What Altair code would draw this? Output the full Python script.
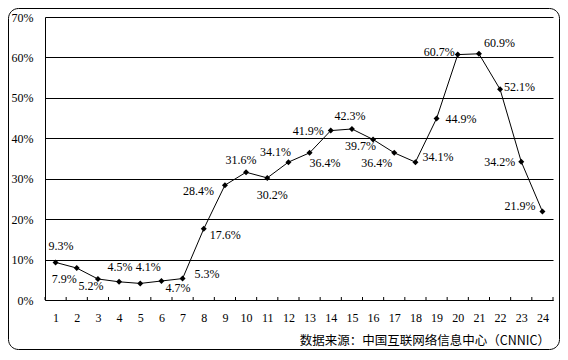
import altair as alt
import pandas as pd

# ---- data ----
periods = list(range(1, 25))
values = [9.3, 7.9, 5.2, 4.5, 4.1, 4.7, 5.3, 17.6, 28.4, 31.6, 30.2, 34.1,
          36.4, 41.9, 42.3, 39.7, 36.4, 34.1, 44.9, 60.7, 60.9, 52.1, 34.2, 21.9]
y_ticks = [0, 10, 20, 30, 40, 50, 60, 70]
source_note = ["数据来源：中国互联网络信息中心（CNNIC）"]

# ---- style: label placement per point (align, dx, dy) ----
LABEL_PLACEMENT = {
    1: ("left", -7, -16), 2: ("right", 0, 11), 3: ("center", -7, 7),
    4: ("center", 1, -15), 5: ("center", 8, -16), 6: ("left", 4, 7),
    7: ("left", 12, -5), 8: ("left", 6, 6), 9: ("right", -11, 6),
    10: ("center", -5, -12), 11: ("center", 5, 17), 12: ("center", -13, -10),
    13: ("left", 0, 10), 14: ("right", -7, 0), 15: ("center", -2, -13),
    16: ("right", 3, 7), 17: ("right", -2, 10), 18: ("left", 7, -5),
    19: ("left", 9, 1), 20: ("right", -3, -3), 21: ("left", 5, -11),
    22: ("left", 4, -2), 23: ("right", -6, 0), 24: ("right", -7, -5),
}

SERIF = "Times New Roman"
W, H = 508, 283

df = pd.DataFrame({"x": periods, "v": values})
df["label"] = [f"{v:.1f}%" for v in values]
note_df = pd.DataFrame({"t": source_note})
tick_df = pd.DataFrame({"x": [p - 0.5 for p in periods] + [periods[-1] + 0.5]})

xscale = alt.Scale(domain=[0.5, 24.5], nice=False, zero=False)
yscale = alt.Scale(domain=[0, 70], nice=False, zero=True)

x_axis = alt.Axis(values=periods, tickSize=0, labelPadding=12, grid=False,
                  labelOverlap=False, labelFlush=False,
                  domain=True, domainColor="black", domainWidth=1,
                  labelColor="black", labelFont=SERIF,
                  labelFontSize=12, title=None)
y_axis = alt.Axis(values=y_ticks, labelExpr="datum.value + '%'", tickSize=0,
                  labelOverlap=False,
                  labelPadding=12, grid=True, gridColor="black", gridOpacity=1,
                  gridWidth=1, domain=True, domainColor="black", domainWidth=1,
                  labelColor="black", labelFont=SERIF, labelFontSize=12,
                  title=None)

base = alt.Chart(df).encode(
    x=alt.X("x:Q", scale=xscale, axis=x_axis),
    y=alt.Y("v:Q", scale=yscale, axis=y_axis),
)

line = base.mark_line(color="black", strokeWidth=1)
points = base.mark_point(shape="diamond", filled=True, size=36, color="black", opacity=1)

texts = []
for i, (align, dx, dy) in LABEL_PLACEMENT.items():
    texts.append(
        base.transform_filter(alt.datum.x == i).mark_text(
            align=align, baseline="middle", dx=dx, dy=dy, font=SERIF,
            fontSize=12, color="black"
        ).encode(text="label:N")
    )

ticks = alt.Chart(tick_df).mark_rule(color="black", strokeWidth=1).encode(
    x=alt.X("x:Q", scale=xscale, axis=x_axis),
    y=alt.value(H - 3),
    y2=alt.value(H),
)

note = alt.Chart(note_df).mark_text(
    align="right", baseline="middle", font="Noto Sans CJK SC", fontSize=12.5, color="black"
).encode(x=alt.value(505), y=alt.value(324), text="t:N")

frame = alt.Chart(note_df).mark_rect(
    fill="white", fillOpacity=0, stroke="black", strokeWidth=1, cornerRadius=10
).encode(x=alt.value(-36.5), x2=alt.value(514.5), y=alt.value(-8.5), y2=alt.value(332.5))

chart = alt.layer(line, points, *texts, ticks, note, frame).properties(
    width=W, height=H,
    autosize=alt.AutoSizeParams(type="none"),
    padding={"left": 37, "top": 9, "right": 7, "bottom": 50},
).configure_view(strokeWidth=0).configure_axis(labelOverlap=False)

chart.save("out.html", embed_options={"renderer": "svg", "actions": False})
